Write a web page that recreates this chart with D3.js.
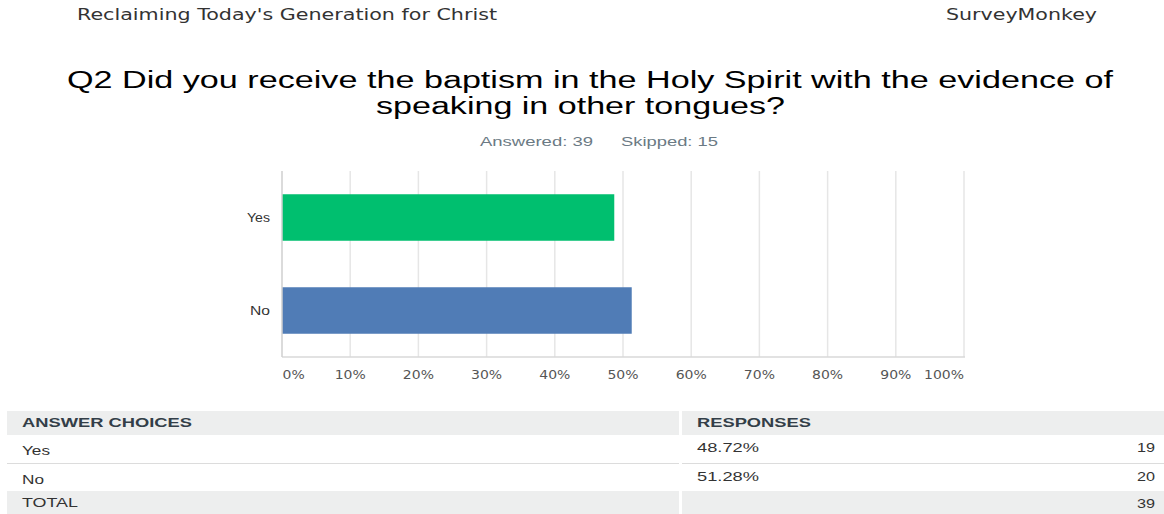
<!DOCTYPE html>
<html>
<head>
<meta charset="utf-8">
<script src="https://cdn.jsdelivr.net/npm/d3@7"></script>
<style>
  html, body { margin: 0; padding: 0; background: #fff; }
  svg { display: block; }
</style>
</head>
<body>
<svg id="chart" width="1164" height="514"></svg>
<script>
// Survey question data
const categories = ["Yes", "No"];
const percents = [48.72, 51.28];
const counts = [19, 20];
const totalCount = 39;
const skippedCount = 15;
const tickValues = [0, 10, 20, 30, 40, 50, 60, 70, 80, 90, 100];
const barColors = ["#00bf6f", "#507cb6"];

const svg = d3.select("#chart");
const sans = "'Liberation Sans', Arial, sans-serif";
const dejavu = "'DejaVu Sans', Verdana, sans-serif";

// Stretched text helper: fits a string to a given width
function stretchedText(g, str, x, y, len, opts) {
  const t = g.append("text")
    .attr("x", x).attr("y", y)
    .attr("font-family", opts.family || sans)
    .attr("font-size", opts.size)
    .attr("fill", opts.fill || "#333")
    .attr("text-anchor", opts.anchor || "start")
    .text(str);
  if (opts.weight) t.attr("font-weight", opts.weight);
  if (len) t.attr("textLength", len).attr("lengthAdjust", "spacingAndGlyphs");
  return t;
}

// Page header
stretchedText(svg, "Reclaiming Today's Generation for Christ", 77, 20, 420, {family: dejavu, size: 15, fill: "#333"});
stretchedText(svg, "SurveyMonkey", 946, 20, 151, {family: dejavu, size: 15, fill: "#333"});

// Question title (two lines)
stretchedText(svg, "Q2 Did you receive the baptism in the Holy Spirit with the evidence of", 67, 88, 1046, {size: 23.5, fill: "#000"});
stretchedText(svg, "speaking in other tongues?", 376, 114, 409, {size: 23.5, fill: "#000"});

// Answered / skipped summary
stretchedText(svg, `Answered: ${totalCount}`, 480, 146, 113, {size: 13, fill: "#6b7a84"});
stretchedText(svg, `Skipped: ${skippedCount}`, 621, 146, 97, {size: 13, fill: "#6b7a84"});

// Scales
const x = d3.scaleLinear().domain([0, 100]).range([282, 964]);
const y = d3.scaleBand().domain(categories).range([171, 357]).paddingInner(0.5).paddingOuter(0.25);

// Vertical gridlines
svg.append("g").selectAll("line")
  .data(tickValues.slice(1))
  .join("line")
  .attr("x1", d => x(d)).attr("x2", d => x(d))
  .attr("y1", 171).attr("y2", 357)
  .attr("stroke", "#e6e6e6").attr("stroke-width", 1.5);

// Bars
svg.append("g").selectAll("rect")
  .data(categories)
  .join("rect")
  .attr("x", x(0))
  .attr("y", d => y(d))
  .attr("width", (d, i) => x(percents[i]) - x(0))
  .attr("height", y.bandwidth())
  .attr("fill", (d, i) => barColors[i]);

// Bottom and left axis lines
svg.append("line").attr("x1", x(0)).attr("x2", x(100) + 1).attr("y1", 357).attr("y2", 357)
  .attr("stroke", "#d8d8d8").attr("stroke-width", 1.5);
svg.append("line").attr("x1", x(0)).attr("x2", x(0)).attr("y1", 171).attr("y2", 357)
  .attr("stroke", "#cfcfcf").attr("stroke-width", 1.5);

// X axis tick labels (slightly widened glyphs; end labels kept inside the plot)
const stretch = 1.12;
const xAxis = d3.axisBottom(x).tickValues(tickValues).tickSize(0).tickPadding(0)
  .tickFormat(d => d + "%");
const xg = svg.append("g").call(xAxis);
xg.select(".domain").remove();
xg.attr("transform", `translate(0,370) scale(${stretch},1)`);
xg.selectAll(".tick").attr("transform", d => `translate(${x(d) / stretch},0)`);
xg.selectAll("text")
  .attr("font-family", dejavu).attr("font-size", 12.5).attr("fill", "#555")
  .attr("dy", "0.71em")
  .attr("x", d => d === 0 ? 0.5 : 0)
  .attr("text-anchor", d => d === 0 ? "start" : d === 100 ? "end" : "middle");

// Y axis category labels
const yAxis = d3.axisLeft(y).tickSize(0).tickPadding(12);
const yg = svg.append("g").attr("transform", `translate(${x(0)},0)`).call(yAxis);
yg.select(".domain").remove();
yg.selectAll("text").attr("font-family", sans).attr("font-size", 12.5).attr("fill", "#333")
  .attr("textLength", d => d === "Yes" ? 23 : 20).attr("lengthAdjust", "spacingAndGlyphs");

// Response table
const table = svg.append("g");
const leftX = 7, leftW = 672, rightX = 682, rightW = 482;
// header row
table.append("rect").attr("x", leftX).attr("y", 411).attr("width", leftW).attr("height", 24).attr("fill", "#edeeee");
table.append("rect").attr("x", rightX).attr("y", 411).attr("width", rightW).attr("height", 24).attr("fill", "#edeeee");
stretchedText(table, "ANSWER CHOICES", 22, 427, 170, {size: 13, weight: "bold", fill: "#333e48"});
stretchedText(table, "RESPONSES", 697, 427, 114, {size: 13, weight: "bold", fill: "#333e48"});

// answer rows
const rowTop = [435, 464];
categories.forEach((c, i) => {
  const top = rowTop[i];
  stretchedText(table, c, 22, top + 20, c === "Yes" ? 28 : 22, {size: 13.5, fill: "#333"});
  stretchedText(table, percents[i].toFixed(2) + "%", 697, top + 17, 62, {size: 13.5, fill: "#333"});
  stretchedText(table, String(counts[i]), 1155, top + 17, 18, {size: 13.5, fill: "#333", anchor: "end"});
  table.append("line").attr("x1", leftX).attr("x2", leftX + leftW).attr("y1", top + 28.5).attr("y2", top + 28.5)
    .attr("stroke", "#dcdcdc").attr("stroke-width", 1);
  table.append("line").attr("x1", rightX).attr("x2", rightX + rightW).attr("y1", top + 28.5).attr("y2", top + 28.5)
    .attr("stroke", "#dcdcdc").attr("stroke-width", 1);
});

// total row
table.append("rect").attr("x", leftX).attr("y", 491).attr("width", leftW).attr("height", 23).attr("fill", "#edeeee");
table.append("rect").attr("x", rightX).attr("y", 491).attr("width", rightW).attr("height", 23).attr("fill", "#edeeee");
stretchedText(table, "TOTAL", 22, 507, 56, {size: 13.5, fill: "#333"});
stretchedText(table, String(totalCount), 1155, 508, 18, {size: 13.5, fill: "#333", anchor: "end"});
</script>
</body>
</html>
